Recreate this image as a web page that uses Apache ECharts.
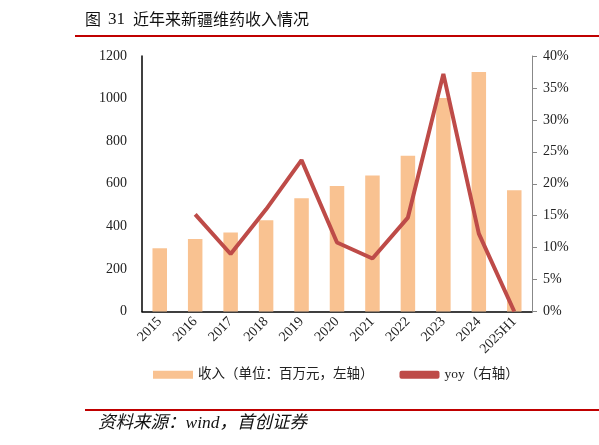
<!DOCTYPE html>
<html>
<head>
<meta charset="utf-8">
<script src="https://cdn.jsdelivr.net/npm/echarts@6/dist/echarts.min.js"></script>
<style>
  html, body { margin: 0; padding: 0; background: #fff; }
  #main { width: 599px; height: 445px; }
</style>
</head>
<body>
<div id="main"></div>
<script>
// data
var years = ['2015', '2016', '2017', '2018', '2019', '2020', '2021', '2022', '2023', '2024', '2025H1'];
var revenue = [297, 340, 371, 429, 532, 589, 639, 731, 1003, 1125, 570];
var yoy = [null, 15.2, 9.0, 16.0, 23.7, 10.8, 8.3, 14.7, 37.2, 12.2, 0.0];
var leftTicks = [0, 200, 400, 600, 800, 1000, 1200];
var rightTicks = [0, 5, 10, 15, 20, 25, 30, 35, 40];

var numFont = '"Liberation Serif", "Times New Roman", serif';
var cjkFont = '"Liberation Serif", "Noto Sans CJK SC", serif';

var chart = echarts.init(document.getElementById('main'));

var option = {
  backgroundColor: '#fff',
  animation: false,
  grid: { left: 142, right: 67, top: 56, bottom: 133.5 },
  legend: {
    left: 148,
    top: 363,
    itemGap: 26,
    itemWidth: 40,
    itemHeight: 8,
    textStyle: { fontFamily: cjkFont, fontSize: 13.5, color: '#222' },
    data: [
      { name: '收入（单位：百万元，左轴）', icon: 'rect' },
      { name: 'yoy（右轴）', icon: 'roundRect', itemStyle: { color: '#BE4B48' } }
    ]
  },
  xAxis: {
    type: 'category',
    data: years,
    axisLine: { lineStyle: { color: '#000', width: 1.5 } },
    axisTick: { show: false },
    axisLabel: {
      rotate: 45,
      interval: 0,
      margin: 8,
      fontFamily: numFont,
      fontSize: 14,
      color: '#222'
    }
  },
  yAxis: [
    {
      type: 'value',
      min: 0,
      max: 1200,
      interval: 200,
      axisLine: { show: true, lineStyle: { color: '#000', width: 1.5 } },
      axisTick: { show: false },
      splitLine: { show: false },
      axisLabel: {
        fontFamily: numFont,
        fontSize: 14,
        color: '#222',
        margin: 15,
        formatter: function (v) { return leftTicks.indexOf(v) >= 0 ? String(v) : ''; }
      }
    },
    {
      type: 'value',
      min: 0,
      max: 40,
      interval: 5,
      position: 'right',
      axisLine: { show: true, lineStyle: { color: '#888', width: 1 } },
      axisTick: { show: true, length: 5, lineStyle: { color: '#888' } },
      splitLine: { show: false },
      axisLabel: {
        fontFamily: numFont,
        fontSize: 14,
        color: '#222',
        margin: 11,
        formatter: function (v) { return rightTicks.indexOf(v) >= 0 ? v + '%' : ''; }
      }
    }
  ],
  series: [
    {
      name: '收入（单位：百万元，左轴）',
      type: 'bar',
      data: revenue,
      barWidth: 14.5,
      itemStyle: { color: '#F9C291' }
    },
    {
      name: 'yoy（右轴）',
      type: 'line',
      yAxisIndex: 1,
      data: yoy,
      symbol: 'none',
      lineStyle: { color: '#BE4B48', width: 4 },
      itemStyle: { color: '#BE4B48' }
    }
  ],
  graphic: [
    {
      type: 'text',
      left: 85,
      top: 11,
      style: { text: '图', font: '16px "Noto Sans CJK SC", sans-serif', fill: '#111' }
    },
    {
      type: 'text',
      left: 108,
      top: 11,
      style: { text: '31', font: '17px "Liberation Serif", serif', fill: '#111' }
    },
    {
      type: 'text',
      left: 133,
      top: 11,
      style: { text: '近年来新疆维药收入情况', font: '16px "Noto Sans CJK SC", sans-serif', fill: '#111' }
    },
    {
      type: 'line',
      shape: { x1: 75, y1: 36, x2: 599, y2: 36 },
      style: { stroke: '#C00000', lineWidth: 2 }
    },
    {
      type: 'line',
      shape: { x1: 85, y1: 410, x2: 599, y2: 410 },
      style: { stroke: '#C00000', lineWidth: 2 }
    },
    {
      type: 'text',
      left: 98,
      top: 415,
      style: {
        text: '资料来源：wind，首创证券',
        font: 'italic 17.5px "Liberation Serif", "Noto Sans CJK SC", serif',
        fill: '#111'
      }
    }
  ]
};

chart.setOption(option);
</script>
</body>
</html>
